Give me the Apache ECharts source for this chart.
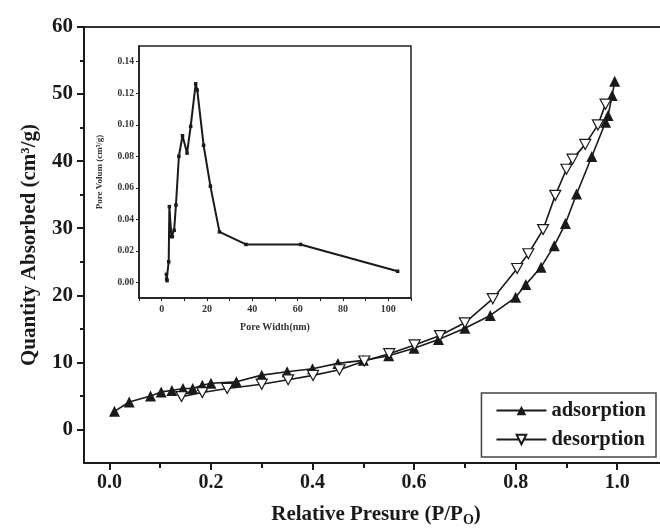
<!DOCTYPE html>
<html><head><meta charset="utf-8">
<script src="https://cdn.jsdelivr.net/npm/echarts@6/dist/echarts.min.js"></script>
<style>html,body{margin:0;padding:0;overflow:hidden;background:#fff}#c{width:668px;height:532px}</style>
</head><body><div id="c"></div>
<script>
// Main isotherm data
const adsX = [0.01,0.039,0.081,0.102,0.123,0.145,0.164,0.183,0.2,0.25,0.30,0.35,0.40,0.45,0.50,0.55,0.60,0.648,0.70,0.75,0.80,0.82,0.85,0.876,0.898,0.92,0.95,0.977,0.982,0.99,0.995];
const adsY = [2.7,4.1,5.0,5.6,5.8,6.1,6.1,6.6,6.9,7.1,8.1,8.6,9.05,9.85,10.3,11.0,12.1,13.4,15.1,17.0,19.7,21.6,24.2,27.4,30.7,35.1,40.7,45.8,46.8,49.8,51.9];
const desX = [0.977,0.962,0.937,0.912,0.90,0.878,0.854,0.825,0.803,0.755,0.70,0.651,0.601,0.551,0.502,0.453,0.401,0.352,0.30,0.232,0.183,0.142];
const desY = [48.5,45.4,42.5,40.3,38.8,34.9,29.8,26.2,24.0,19.5,15.9,14.0,12.6,11.3,10.2,8.9,8.06,7.4,6.75,6.1,5.5,4.9];
// Inset pore size distribution
const poreW = [2.1,2.2,2.4,3.1,3.4,4.3,4.7,5.5,6.3,7.6,9.2,11.2,12.8,15.0,15.7,18.5,21.5,25.5,37.2,61.3,104.1];
const poreV = [0.005,0.002,0.001,0.013,0.048,0.029,0.029,0.033,0.049,0.080,0.093,0.082,0.099,0.126,0.122,0.087,0.061,0.032,0.024,0.024,0.007];
// Ticks
const mainXTicks = [0,0.2,0.4,0.6,0.8,1.0];
const mainXMinor = [0.1,0.3,0.5,0.7,0.9];
const mainYTicks = [0,10,20,30,40,50,60];
const mainYMinor = [5,15,25,35,45,55];
const insetXTicks = [0,20,40,60,80,100];
const insetXMinor = [-10,10,30,50,70,90,110];
const insetYTicks = [0,0.02,0.04,0.06,0.08,0.10,0.12,0.14];

const F = 'Liberation Serif';
const C = '#1a1a1a';
const downTri = 'path://M0,0 L12,0 L6,10.4 Z';

const chart = echarts.init(document.getElementById('c'), null, {renderer:'canvas'});
const pairs = (xs, ys) => xs.map((x,i)=>[x, ys[i]]);

const option = {
  animation:false,
  backgroundColor:'#fff',
  grid:[
    {left:84, top:27, right:0, bottom:68, show:true, borderColor:'#333', borderWidth:2, backgroundColor:'transparent'},
    {left:139, top:46, width:272, height:252, show:true, borderColor:'#222', borderWidth:1.5, backgroundColor:'#fff'}
  ],
  legend:{
    right:12, top:393, orient:'vertical', itemGap:8, itemWidth:50, itemHeight:12,
    borderColor:'#444', borderWidth:1.5, padding:[7,10,7,14],
    textStyle:{fontFamily:F, fontWeight:'bold', fontSize:20.5, color:C},
    data:['adsorption','desorption']
  },
  xAxis:[
    {gridIndex:0, type:'value', min:-0.05, max:1.1,
     axisLine:{show:true, onZero:false, lineStyle:{color:C, width:2}},
     axisTick:{show:true, customValues:mainXTicks, length:7, inside:false, lineStyle:{color:C, width:2}},
     axisLabel:{customValues:mainXTicks, formatter:v=>v.toFixed(1), fontFamily:F, fontWeight:'bold', fontSize:20, color:C, margin:10},
     splitLine:{show:false},
     name:'{a|Relative Presure (P/P}{s|O}{a|)}', nameLocation:'middle', nameGap:40,
     nameTextStyle:{rich:{a:{fontFamily:F, fontWeight:'bold', fontSize:21, color:C}, s:{fontFamily:F, fontWeight:'bold', fontSize:14, color:C, padding:[10,0,0,0]}}}
    },
    {gridIndex:0, type:'value', min:-0.05, max:1.1, position:'bottom',
     axisLine:{show:false, onZero:false}, axisLabel:{show:false}, splitLine:{show:false},
     axisTick:{show:true, customValues:mainXMinor, length:5, lineStyle:{color:C, width:2}}},
    {gridIndex:1, type:'value', min:-10, max:110,
     axisLine:{show:true, onZero:false, lineStyle:{color:C, width:1.5}},
     axisTick:{show:true, customValues:insetXMinor.concat(insetXTicks), length:3, lineStyle:{color:C, width:1}},
     axisLabel:{customValues:insetXTicks, fontFamily:F, fontWeight:'bold', fontSize:10, color:'#333', margin:6},
     splitLine:{show:false},
     name:'Pore Width(nm)', nameLocation:'middle', nameGap:24,
     nameTextStyle:{fontFamily:F, fontWeight:'bold', fontSize:10, color:'#333'}
    }
  ],
  yAxis:[
    {gridIndex:0, type:'value', min:-5, max:60,
     axisLine:{show:true, onZero:false, lineStyle:{color:C, width:2}},
     axisTick:{show:true, customValues:mainYTicks, length:7, lineStyle:{color:C, width:2}},
     axisLabel:{customValues:mainYTicks, fontFamily:F, fontWeight:'bold', fontSize:21, color:C, margin:11},
     splitLine:{show:false},
     name:'Quantity Absorbed (cm³/g)', nameLocation:'middle', nameGap:44,
     nameTextStyle:{fontFamily:F, fontWeight:'bold', fontSize:21, color:C}
    },
    {gridIndex:0, type:'value', min:-5, max:60, position:'left',
     axisLine:{show:false, onZero:false}, axisLabel:{show:false}, splitLine:{show:false},
     axisTick:{show:true, customValues:mainYMinor, length:4, lineStyle:{color:C, width:2}}},
    {gridIndex:1, type:'value', min:-0.01, max:0.15,
     axisLine:{show:true, onZero:false, lineStyle:{color:C, width:1.5}},
     axisTick:{show:true, customValues:insetYTicks, length:3, lineStyle:{color:C, width:1}},
     axisLabel:{customValues:insetYTicks, formatter:v=>v.toFixed(2), fontFamily:F, fontWeight:'bold', fontSize:9.5, color:'#333', margin:5},
     splitLine:{show:false},
     name:'Pore Volum (cm³/g)', nameLocation:'middle', nameGap:35,
     nameTextStyle:{fontFamily:F, fontWeight:'bold', fontSize:9, color:'#333'}
    }
  ],
  series:[
    {name:'adsorption', type:'line', xAxisIndex:0, yAxisIndex:0, data:pairs(adsX, adsY),
     symbol:'triangle', symbolSize:11, showAllSymbol:true,
     lineStyle:{color:C, width:1.6}, itemStyle:{color:C}},
    {name:'desorption', type:'line', xAxisIndex:0, yAxisIndex:0, data:pairs(desX, desY),
     symbol:downTri, symbolSize:[11,10], showAllSymbol:true,
     lineStyle:{color:C, width:1.6}, itemStyle:{color:'#fff', borderColor:C, borderWidth:1.2}},
    {name:'pore', type:'line', xAxisIndex:2, yAxisIndex:2, data:pairs(poreW, poreV),
     symbol:'rect', symbolSize:3.5, showAllSymbol:true,
     lineStyle:{color:C, width:2}, itemStyle:{color:C}}
  ]
};
chart.setOption(option);
</script>
</body></html>
